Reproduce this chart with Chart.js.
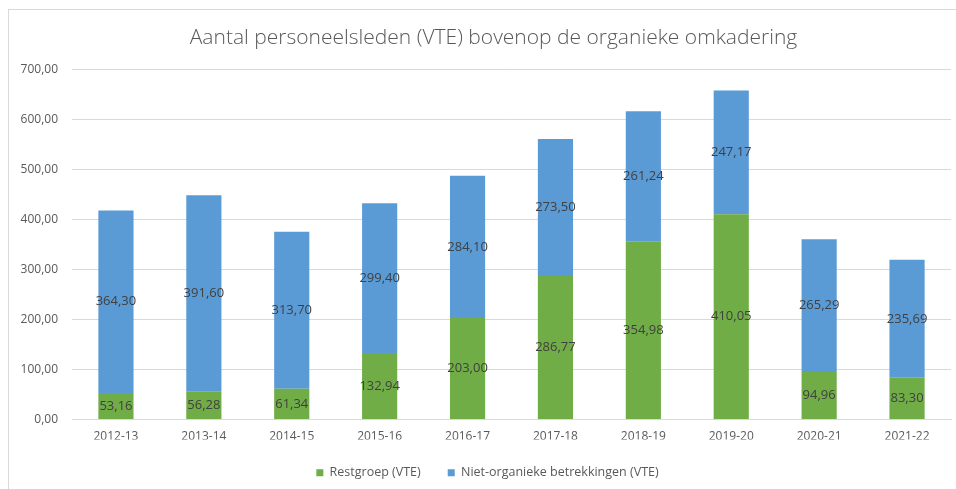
<!DOCTYPE html>
<html>
<head>
<meta charset="utf-8">
<script src="https://cdn.jsdelivr.net/npm/chart.js@4"></script>
<style>
html,body{margin:0;padding:0;background:#fff;}
#wrap{position:relative;width:956px;height:489px;}
#frame{position:absolute;left:8px;top:9px;width:960px;height:490px;border-top:1px solid #d9d9d9;border-left:1px solid #d9d9d9;pointer-events:none;}
</style>
</head>
<body>
<div id="wrap">
<canvas id="c" width="956" height="489"></canvas>
<div id="frame"></div>
</div>
<script>
const categories = ['2012-13','2013-14','2014-15','2015-16','2016-17','2017-18','2018-19','2019-20','2020-21','2021-22'];
const restgroep = [53.16, 56.28, 61.34, 132.94, 203.00, 286.77, 354.98, 410.05, 94.96, 83.30];
const nietOrganiek = [364.30, 391.60, 313.70, 299.40, 284.10, 273.50, 261.24, 247.17, 265.29, 235.69];
const yTicks = [0, 100, 200, 300, 400, 500, 600, 700];

const fmt = v => v.toFixed(2).replace('.', ',');

const labelPlugin = {
  id: 'barLabels',
  afterLayout(chart) {
    const shift = (box, dx) => { if (box) { box.left += dx; box.right += dx; } };
    shift(chart.titleBlock, 18);
    shift(chart.legend, 12);
  },
  afterDatasetsDraw(chart) {
    const ctx = chart.ctx;
    ctx.save();
    ctx.font = '13px "Open Sans"';
    ctx.fillStyle = '#404040';
    ctx.textAlign = 'center';
    ctx.textBaseline = 'middle';
    chart.data.datasets.forEach((ds, di) => {
      const meta = chart.getDatasetMeta(di);
      meta.data.forEach((bar, i) => {
        const y = (bar.y + bar.base) / 2;
        ctx.fillText(fmt(ds.data[i]), bar.x, y);
      });
    });
    ctx.restore();
  }
};

new Chart(document.getElementById('c'), {
  type: 'bar',
  data: {
    labels: categories,
    datasets: [
      { label: 'Restgroep (VTE)', data: restgroep, backgroundColor: '#70AD47', categoryPercentage: 1, barPercentage: 0.4 },
      { label: 'Niet-organieke betrekkingen (VTE)', data: nietOrganiek, backgroundColor: '#5B9BD5', categoryPercentage: 1, barPercentage: 0.4 }
    ]
  },
  options: {
    responsive: false,
    animation: false,
    layout: { padding: { left: 0, right: 5, top: 0, bottom: 0 } },
    plugins: {
      title: {
        display: true,
        text: 'Aantal personeelsleden (VTE) bovenop de organieke omkadering',
        color: '#595959',
        font: { family: '"Open Sans"', size: 21, weight: '300' },
        padding: { top: 25, bottom: 19 }
      },
      legend: {
        position: 'bottom',
        labels: {
          color: '#595959',
          font: { family: '"Open Sans"', size: 12.5 },
          boxWidth: 7, boxHeight: 7, padding: 27
        }
      },
      tooltip: { enabled: false }
    },
    scales: {
      x: {
        stacked: true,
        grid: { display: false, drawTicks: false },
        border: { display: true, color: '#d9d9d9' },
        afterFit: s => { s.height = 20; },
        ticks: { color: '#595959', font: { family: '"Open Sans"', size: 12 }, padding: 10 }
      },
      y: {
        stacked: true,
        min: 0, max: 700,
        afterBuildTicks: s => { s.ticks = yTicks.map(v => ({ value: v })); },
        afterFit: s => { s.width = 72; },
        grid: { color: '#d9d9d9', drawTicks: false },
        border: { display: false },
        ticks: { color: '#595959', font: { family: '"Open Sans"', size: 12 }, padding: 14, callback: v => fmt(v) }
      }
    }
  },
  plugins: [labelPlugin]
});
</script>
</body>
</html>
